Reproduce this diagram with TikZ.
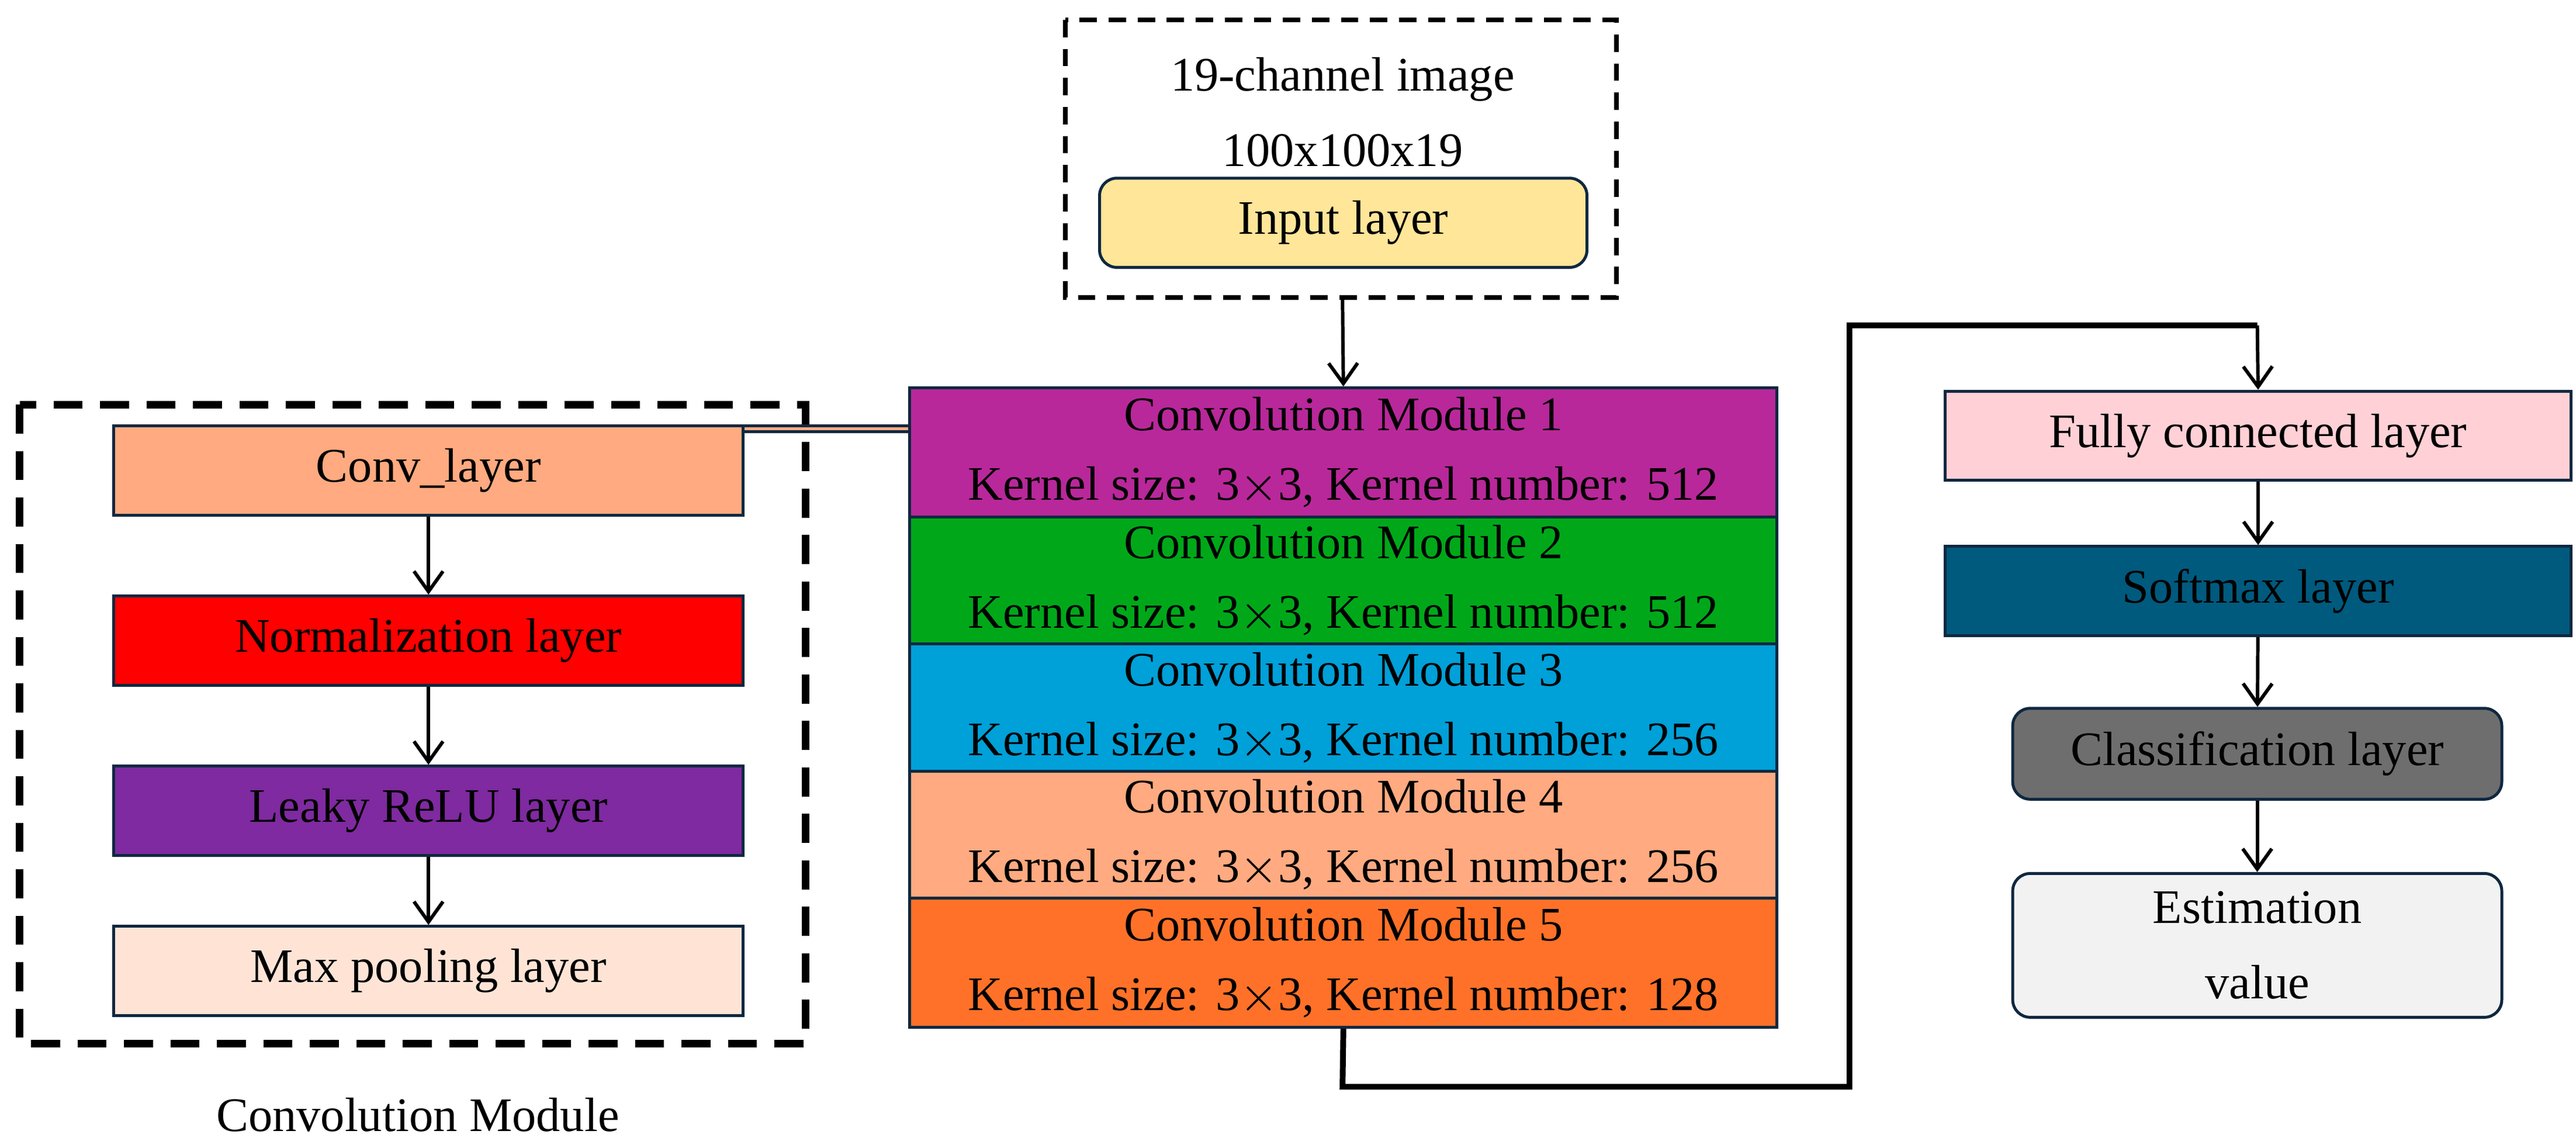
\documentclass[tikz,border=0pt]{standalone}
\usepackage{fontspec}
\setmainfont{Liberation Serif}
\usetikzlibrary{arrows.meta}
\definecolor{cconv}{HTML}{FFAA80}
\definecolor{cnorm}{HTML}{FF0000}
\definecolor{crelu}{HTML}{7F2AA0}
\definecolor{cpool}{HTML}{FFE4D6}
\definecolor{cin}{HTML}{FFE699}
\definecolor{cm1}{HTML}{B8289A}
\definecolor{cm2}{HTML}{00A819}
\definecolor{cm3}{HTML}{00A0D8}
\definecolor{cm4}{HTML}{FFAA80}
\definecolor{cm5}{HTML}{FF7128}
\definecolor{cfc}{HTML}{FFD0D6}
\definecolor{csm}{HTML}{005A7E}
\definecolor{ccl}{HTML}{6E6E6E}
\definecolor{cest}{HTML}{F2F2F2}
\definecolor{edge}{HTML}{0F2840}
\begin{document}
\begin{tikzpicture}[x=0.01cm,y=-0.01cm,
  every node/.style={font=\fontsize{8.3}{10}\selectfont},
  box/.style={draw=edge,line width=0.5pt,inner sep=0pt,anchor=north west},
  rbox/.style={box,rounded corners=3pt},
  dbox/.style={draw,dash pattern=on 5pt off 3pt,line width=1.3pt},
  dbox2/.style={draw,dash pattern=on 3pt off 2pt,line width=0.8pt},
  arr/.style={-{Straight Barb[length=3.5pt,width=5pt]},line width=0.6pt},
  conn/.style={line width=1pt}]
\useasboundingbox (0,0) rectangle (1560,695);
% left module
\draw[dbox] (12,245) rectangle (488,632);
\node[box,fill=cconv,minimum width=381\pgflinewidth] (c1) at (68,257) {};
\node[box,fill=cconv,minimum width=3.81cm,minimum height=0.54cm] (conv) at (68,257) {Conv\_layer};
\node[box,fill=cnorm,minimum width=3.81cm,minimum height=0.54cm] (norm) at (68,360) {Normalization layer};
\node[box,fill=crelu,minimum width=3.81cm,minimum height=0.54cm] (relu) at (68,463) {Leaky ReLU layer};
\node[box,fill=cpool,minimum width=3.81cm,minimum height=0.54cm] (pool) at (68,560) {Max pooling layer};
\draw[arr] (conv) -- (norm);
\draw[arr] (norm) -- (relu);
\draw[arr] (relu) -- (pool);
\node (cmlab) at (253,675) {Convolution Module};
% input
\draw[dbox2] (645,12) rectangle (979,180);
\coordinate (inbot) at (813,180);
\node[align=center] (intxt) at (813,68) {19-channel image\\[3pt]100x100x19};
\node[rbox,fill=cin,minimum width=2.95cm,minimum height=0.54cm] (input) at (665,107) {Input layer};
% conv stack
\node[box,fill=cm1,minimum width=5.25cm,minimum height=0.78cm,align=center] (m1) at (550,234) {Convolution Module 1\\[2pt]Kernel size: 3$\times$3, Kernel number: 512};
\node[box,fill=cm2,minimum width=5.25cm,minimum height=0.77cm,align=center] (m2) at (550,312) {Convolution Module 2\\[2pt]Kernel size: 3$\times$3, Kernel number: 512};
\node[box,fill=cm3,minimum width=5.25cm,minimum height=0.77cm,align=center] (m3) at (550,389) {Convolution Module 3\\[2pt]Kernel size: 3$\times$3, Kernel number: 256};
\node[box,fill=cm4,minimum width=5.25cm,minimum height=0.77cm,align=center] (m4) at (550,466) {Convolution Module 4\\[2pt]Kernel size: 3$\times$3, Kernel number: 256};
\node[box,fill=cm5,minimum width=5.25cm,minimum height=0.78cm,align=center] (m5) at (550,543) {Convolution Module 5\\[2pt]Kernel size: 3$\times$3, Kernel number: 128};
\draw[arr] (inbot) -- (m1.north);
% right column
\node[box,fill=cfc,minimum width=3.79cm,minimum height=0.54cm] (fc) at (1177,236) {Fully connected layer};
\node[box,fill=csm,minimum width=3.79cm,minimum height=0.54cm] (sm) at (1177,330) {Softmax layer};
\node[rbox,fill=ccl,minimum width=2.96cm,minimum height=0.55cm] (cl) at (1218,428) {Classification layer};
\node[rbox,fill=cest,minimum width=2.96cm,minimum height=0.87cm,align=center] (est) at (1218,528) {Estimation\\[3pt]value};
\draw[arr] (fc) -- (sm);
\draw[arr] (sm) -- (cl);
\draw[arr] (cl) -- (est);
\coordinate (b1) at (813,658);
\coordinate (b2) at (1120,658);
\coordinate (b3) at (1120,197);
\coordinate (b4) at (1367,197);
\draw[conn] (m5.south) -- (b1) -- (b2) -- (b3) -- (b4);
\draw[arr] (b4) -- (fc.north);
\end{tikzpicture}
\end{document}
